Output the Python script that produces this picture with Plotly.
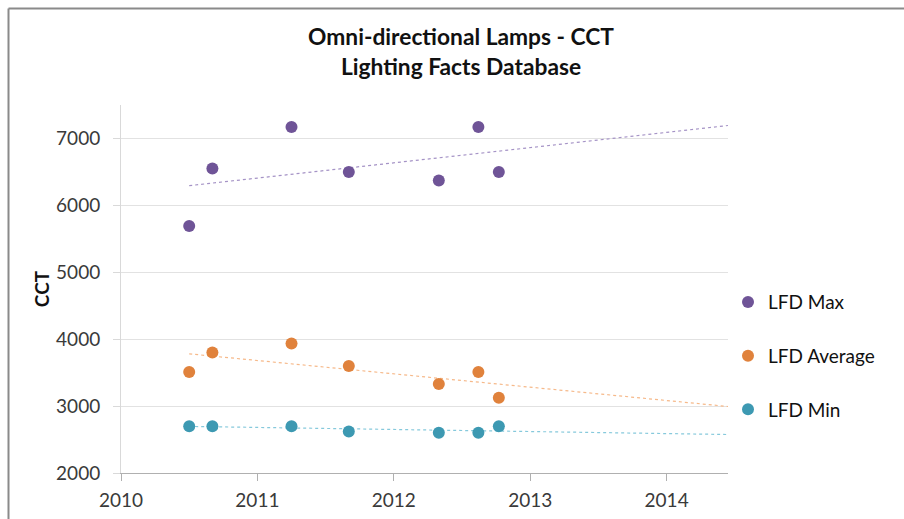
import numpy as np
import plotly.graph_objects as go

# ---- data ----
years = [2010.50, 2010.67, 2011.25, 2011.67, 2012.33, 2012.62, 2012.77]
lfd_max = [5690, 6550, 7170, 6500, 6370, 7170, 6500]
lfd_avg = [3510, 3800, 3935, 3600, 3330, 3510, 3125]
lfd_min = [2700, 2700, 2700, 2620, 2600, 2600, 2700]
series_names = ["LFD Max", "LFD Average", "LFD Min"]
x_ticks = [2010, 2011, 2012, 2013, 2014]
y_ticks = [2000, 3000, 4000, 5000, 6000, 7000]
x_range = [2010, 2014.45]
y_range = [2000, 7500]
trend_end = 2014.45

colors = ["#6f5497", "#e0823c", "#3d99b2"]
trend_colors = ["#a593c6", "#f6b98a", "#86c9dc"]
FONT = "Lato"

fig = go.Figure()
for i, (name, vals) in enumerate(zip(series_names, [lfd_max, lfd_avg, lfd_min])):
    slope, icpt = np.polyfit(years, vals, 1)
    tx = [years[0], trend_end]
    ty = [slope * v + icpt for v in tx]
    fig.add_trace(go.Scatter(x=tx, y=ty, mode="lines",
                             line=dict(color=trend_colors[i], width=1.2, dash="dot"),
                             showlegend=False, hoverinfo="skip"))
for i, (name, vals) in enumerate(zip(series_names, [lfd_max, lfd_avg, lfd_min])):
    fig.add_trace(go.Scatter(x=years, y=vals, mode="markers", name=name,
                             legendgroup=name,
                             marker=dict(color=colors[i], size=12, line=dict(width=0))))

W, H = 904, 519
fig.update_layout(
    width=W, height=H,
    margin=dict(l=121, r=176, t=105, b=46, autoexpand=False),
    paper_bgcolor="white", plot_bgcolor="white",
    font=dict(family=FONT, size=19, color="#3a3a3a"),
    title=dict(text="<b>Omni-directional Lamps - CCT<br>Lighting Facts Database</b>",
               x=461 / W, xanchor="center", y=1 - 45 / H, yanchor="middle",
               automargin=False,
               font=dict(family=FONT, size=22.75, color="#111111")),
    xaxis=dict(range=x_range, tickvals=x_ticks, ticktext=[str(t) for t in x_ticks],
               showgrid=False, zeroline=False, showline=True, linecolor="#b0b0b0",
               linewidth=1, ticks="outside", ticklen=7, tickcolor="#b0b0b0",
               automargin=False, ticklabelstandoff=3,
               tickfont=dict(size=19, color="#3a3a3a")),
    yaxis=dict(range=y_range, tickvals=y_ticks, showgrid=True, gridcolor="#e2e2e2",
               gridwidth=1, zeroline=False, showline=True, linecolor="#d9d9d9",
               linewidth=1, ticks="outside", ticklen=7, tickcolor="#d9d9d9",
               automargin=False, ticklabelstandoff=9,
               tickfont=dict(size=19, color="#3a3a3a"),
               title=dict(text="<b>CCT</b>", standoff=1,
                          font=dict(size=19, color="#111111"))),
    legend=dict(x=1.0, xanchor="left", y=0.516, yanchor="top",
                font=dict(size=19, color="#111111"), tracegroupgap=26,
                bgcolor="rgba(0,0,0,0)"),
    showlegend=True,
)

# outer chart frame (left and top edges visible in the reference)
fx = (8.5 - 121) / (W - 121 - 176)
fy = (H - 46 - 8.5) / (H - 105 - 46)
fig.add_shape(type="line", xref="paper", yref="paper",
              x0=fx, x1=fx, y0=fy, y1=-0.2,
              line=dict(color="#8a8a8a", width=2))
fig.add_shape(type="line", xref="paper", yref="paper",
              x0=fx, x1=1.35, y0=fy, y1=fy,
              line=dict(color="#8a8a8a", width=2))

fig.write_html("out.html",
               config={"displayModeBar": False},
               post_script="document.body.style.margin='0';"
                           "document.body.style.overflow='hidden';")
